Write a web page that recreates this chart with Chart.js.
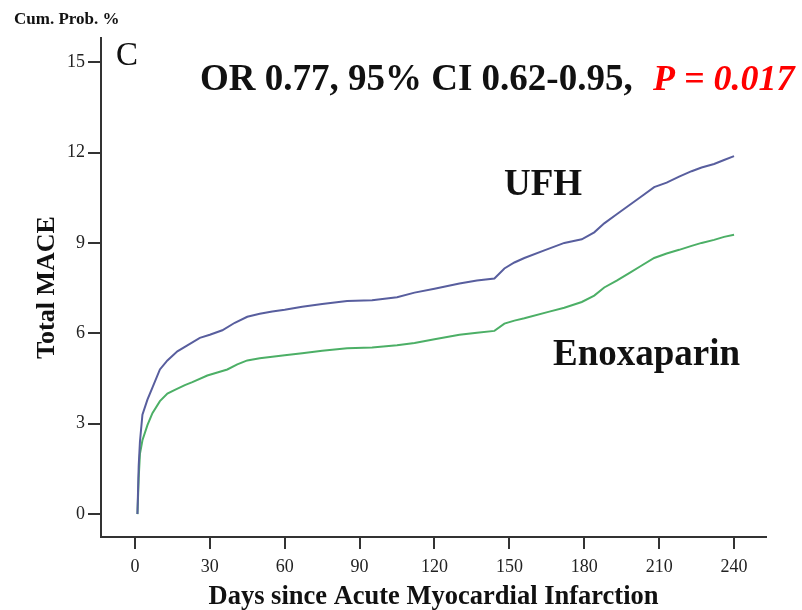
<!DOCTYPE html>
<html>
<head>
<meta charset="utf-8">
<script src="https://cdn.jsdelivr.net/npm/chart.js@4.4.0/dist/chart.umd.min.js"></script>
<style>
  body { margin: 0; background: #fff; }
  #wrap { width: 802px; height: 610px; }
</style>
</head>
<body>
<div id="wrap"><canvas id="myChart" width="802" height="610"></canvas></div>
<script>
const xTicks = [0, 30, 60, 90, 120, 150, 180, 210, 240];
const yTicks = [0, 3, 6, 9, 12, 15];

const ufhDays = [1, 1.5, 2, 3, 5, 7, 10, 13, 17, 21, 26, 30, 35, 40, 45, 50, 55, 60, 67, 75, 85, 95, 105, 112, 120, 130, 137, 144, 148, 152, 156, 164, 172, 179, 184, 188, 193, 198, 203, 208, 213, 218, 223, 227, 232, 236, 240];
const ufhValues = [0, 1.6, 2.4, 3.3, 3.8, 4.2, 4.8, 5.1, 5.4, 5.6, 5.85, 5.95, 6.1, 6.35, 6.55, 6.65, 6.72, 6.78, 6.88, 6.97, 7.07, 7.1, 7.2, 7.35, 7.48, 7.65, 7.75, 7.82, 8.15, 8.35, 8.5, 8.75, 9.0, 9.12, 9.35, 9.65, 9.95, 10.25, 10.55, 10.85, 11.0, 11.2, 11.38, 11.5, 11.62, 11.75, 11.88];

const enoxDays = [1, 1.5, 2, 3, 5, 7, 10, 13, 16, 20, 23, 29, 33, 37, 41, 45, 50, 55, 60, 67, 75, 85, 95, 105, 112, 120, 130, 137, 144, 148, 152, 156, 166, 172, 179, 184, 188, 193, 198, 203, 208, 213, 218, 223, 227, 232, 236, 240];
const enoxValues = [0, 1.2, 2.0, 2.45, 2.95, 3.35, 3.75, 4.0, 4.12, 4.28, 4.38, 4.6, 4.7, 4.8, 4.97, 5.1, 5.17, 5.22, 5.27, 5.34, 5.42, 5.5, 5.53, 5.6, 5.68, 5.8, 5.95, 6.02, 6.08, 6.32, 6.42, 6.5, 6.72, 6.85, 7.04, 7.25, 7.52, 7.75, 8.0, 8.25, 8.5, 8.65, 8.77, 8.9, 9.0, 9.1, 9.2, 9.27];

const SERIF = "'Liberation Serif', 'Times New Roman', serif";
const axisColor = "#333333";

function toPoints(days, values) {
  return days.map((d, i) => ({ x: d, y: values[i] }));
}

// texts written on top of the plot
const labelsPlugin = {
  id: "labels",
  afterDraw(chart) {
    const ctx = chart.ctx;
    ctx.save();
    ctx.textBaseline = "alphabetic";
    ctx.textAlign = "left";
    ctx.fillStyle = "#111";
    ctx.font = "bold 17px " + SERIF;
    ctx.fillText("Cum. Prob. %", 14, 24);
    ctx.font = "33px " + SERIF;
    ctx.fillText("C", 116, 65);
    ctx.font = "bold 37px " + SERIF;
    ctx.fillText("OR 0.77, 95% CI 0.62-0.95,", 200, 90);
    ctx.fillStyle = "#ff0000";
    ctx.font = "italic bold 36px " + SERIF;
    ctx.fillText("P = 0.017", 653, 90);
    ctx.fillStyle = "#111";
    ctx.font = "bold 37px " + SERIF;
    ctx.fillText("UFH", 504, 195);
    ctx.fillText("Enoxaparin", 553, 365);
    ctx.restore();
  },
};

function renderChart() {
  const ctx = document.getElementById("myChart");

  new Chart(ctx, {
    type: "line",
    data: {
      datasets: [
        {
          label: "UFH",
          data: toPoints(ufhDays, ufhValues),
          borderColor: "#585e9e",
          borderWidth: 2,
          pointRadius: 0,
          tension: 0,
        },
        {
          label: "Enoxaparin",
          data: toPoints(enoxDays, enoxValues),
          borderColor: "#4caf66",
          borderWidth: 2,
          pointRadius: 0,
          tension: 0,
        },
      ],
    },
    options: {
      responsive: false,
      animation: false,
      layout: { padding: { left: 0, right: 36, top: 38, bottom: 0 } },
      plugins: {
        legend: { display: false },
        tooltip: { enabled: false },
      },
      scales: {
        x: {
          type: "linear",
          min: -13.6,
          max: 252.8,
          afterBuildTicks: (scale) => {
            scale.ticks = xTicks.map((v) => ({ value: v }));
          },
          afterFit: (scale) => {
            scale.height = 73;
          },
          grid: {
            drawOnChartArea: false,
            drawTicks: true,
            tickLength: 12,
            color: axisColor,
            lineWidth: 2,
          },
          border: { display: true, color: axisColor, width: 2 },
          ticks: {
            padding: 7,
            color: "#222",
            font: { family: SERIF, size: 18 },
          },
          title: {
            display: true,
            text: "Days since Acute Myocardial Infarction",
            color: "#111",
            font: { family: SERIF, size: 26.5, weight: "bold", lineHeight: 1 },
            padding: { top: 0, bottom: 0 },
          },
        },
        y: {
          type: "linear",
          min: -0.76,
          max: 15.8,
          afterBuildTicks: (scale) => {
            scale.ticks = yTicks.map((v) => ({ value: v }));
          },
          afterFit: (scale) => {
            scale.width = 101;
          },
          grid: {
            drawOnChartArea: false,
            drawTicks: true,
            tickLength: 13,
            color: axisColor,
            lineWidth: 2,
          },
          border: { display: true, color: axisColor, width: 2 },
          ticks: {
            padding: 3,
            color: "#222",
            font: { family: SERIF, size: 18 },
          },
          title: {
            display: true,
            text: "Total MACE",
            color: "#111",
            font: { family: SERIF, size: 26, weight: "bold", lineHeight: 1 },
            padding: { top: 34, bottom: 0 },
          },
        },
      },
    },
    plugins: [labelsPlugin],
  });
}

renderChart();
</script>
</body>
</html>
